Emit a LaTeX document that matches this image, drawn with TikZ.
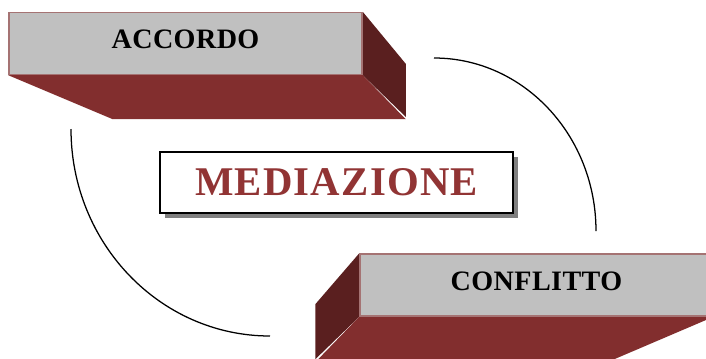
\documentclass[tikz,border=0pt]{standalone}
\usepackage{fontspec}
\setmainfont{Liberation Serif}
\newfontfamily\boxfont[LetterSpace=1.5]{Liberation Serif}
\newfontfamily\titlefont[LetterSpace=3]{Liberation Serif}
\usetikzlibrary{shadows, backgrounds}
\definecolor{facegray}{RGB}{192,192,192}
\definecolor{faceedge}{RGB}{165,115,115}
\definecolor{bottomred}{RGB}{130,46,46}
\definecolor{sidered}{RGB}{90,31,31}
\definecolor{titlered}{RGB}{145,52,52}
\definecolor{shadowgray}{RGB}{128,128,128}
\tikzset{
    face/.style={
        rectangle, draw=faceedge, line width=1pt,
        minimum width=8.825cm, minimum height=1.55cm,
        inner sep=0pt, text depth=0.2cm,
        fill=facegray, font=\boxfont\bfseries\fontsize{20}{22}\selectfont
    },
    sideface/.style={fill=sidered},
    bottomface/.style={fill=bottomred},
    title/.style={
        rectangle, draw=black, line width=1.2pt,
        minimum width=8.825cm, minimum height=1.525cm,
        inner sep=0pt, fill=white, text=titlered,
        font=\titlefont\bfseries\fontsize{29}{32}\selectfont,
        drop shadow={shadow xshift=0.12cm, shadow yshift=-0.12cm,
            fill=shadowgray, opacity=1}
    },
    link/.style={draw=black, line width=0.9pt}
}
\begin{document}
\begin{tikzpicture}[x=0.025cm, y=-0.025cm]
\useasboundingbox (0,0) rectangle (706,358);

% Agreement block (top left)
\node[face] (accordo) at (185.5,43.5) {ACCORDO};

% Conflict block (bottom right)
\node[face] (conflitto) at (536.5,285) {CONFLITTO};

% Mediation (center)
\node[title] (mediazione) at (336.5,182.5) {MEDIAZIONE};

% 3D faces behind the blocks
\begin{scope}[on background layer]
\fill[sideface] (accordo.north east) -- ++(43,52) -- ++(0,53) -- (accordo.south east) -- cycle;
\fill[bottomface] (accordo.south west) -- (accordo.south east) -- ++(43,44) -- ++(-293,0) -- cycle;
\fill[sideface] (conflitto.north west) -- ++(-44,51) -- ++(0,55) -- (conflitto.south west) -- cycle;
\fill[bottomface] (conflitto.south west) -- (conflitto.south east) -- ++(-103,44) -- ++(-294,0) -- cycle;
\end{scope}

% Cycle arcs
\coordinate (arcA1) at (434,58);
\coordinate (arcA2) at (596,231);
\coordinate (arcB1) at (71,129);
\coordinate (arcB2) at (270,336);
\draw[link] (arcA1) .. controls (523.5,58) and (596,135.5) .. (arcA2);
\draw[link] (arcB1) .. controls (71,243.3) and (160.1,336) .. (arcB2);

\end{tikzpicture}
\end{document}
